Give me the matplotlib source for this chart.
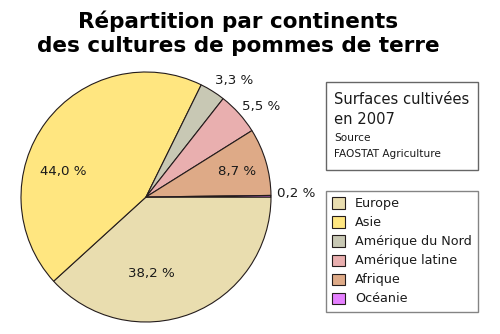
import numpy as np
import matplotlib
matplotlib.use('Agg')
import matplotlib.pyplot as plt
from matplotlib.patches import Rectangle

# Surfaces de pommes de terre par continent, 2007 (FAOSTAT)
continents = ['Europe', 'Asie', 'Amérique du Nord', 'Amérique latine', 'Afrique', 'Océanie']
parts = [38.2, 44.0, 3.3, 5.5, 8.7, 0.2]
couleurs = ['#e9ddaf', '#ffe680', '#c8c8b4', '#e9afaf', '#deaa87', '#e580ff']

# placement des étiquettes : décalage angulaire (degrés) et distance au centre (rayons)
decalage = [-17, 20, -5, -4, -1, 1]
distance = [0.61, 0.69, 1.17, 1.17, 0.755, 1.2]

W, H = 500, 334
fig = plt.figure(figsize=(W / 100, H / 100), dpi=100)
fig.patch.set_facecolor('white')

# camembert : centre (146, 197), rayon 125 px
cx, cy, r = 146, 197, 125
ax = fig.add_axes([(cx - r) / W, (H - cy - r) / H, 2 * r / W, 2 * r / H])
wedges, _ = ax.pie(parts, colors=couleurs, startangle=0, counterclock=False,
                   radius=1, wedgeprops=dict(edgecolor='#241c1c', linewidth=0.8))
ax.set_xlim(-1, 1)
ax.set_ylim(-1, 1)
ax.set_aspect('equal')
ax.axis('off')

for w, v, d, rr in zip(wedges, parts, decalage, distance):
    theta = np.deg2rad((w.theta1 + w.theta2) / 2 + d)
    txt = f"{v:.1f} %".replace('.', ',')
    ax.text(rr * np.cos(theta), rr * np.sin(theta), txt, ha='center', va='center',
            fontsize=9.6, color='#1a1a1a', clip_on=False)

# titre
fig.text(238 / W, 1 - 33 / H,
         'Répartition par continents\ndes cultures de pommes de terre',
         ha='center', va='center', fontsize=15.5, fontweight='bold',
         linespacing=1.25, color='black')

# encadré source
fig.add_artist(Rectangle((326 / W, 1 - 170 / H), 152 / W, 88 / H,
                         transform=fig.transFigure, facecolor='white',
                         edgecolor='#666666', linewidth=1.0))
fig.text(334 / W, 1 - 100 / H, 'Surfaces cultivées', fontsize=10.6,
         ha='left', va='center', color='#1a1a1a')
fig.text(334 / W, 1 - 119 / H, 'en 2007', fontsize=10.6,
         ha='left', va='center', color='#1a1a1a')
fig.text(334 / W, 1 - 138 / H, 'Source', fontsize=7.6,
         ha='left', va='center', color='#1a1a1a')
fig.text(334 / W, 1 - 154 / H, 'FAOSTAT Agriculture', fontsize=7.6,
         ha='left', va='center', color='#1a1a1a')

# légende
leg = fig.legend(wedges, continents, loc='upper left',
                 bbox_to_anchor=(326 / W, 1 - 191 / H), borderaxespad=0,
                 fontsize=9.2, frameon=True, fancybox=False,
                 handlelength=0.95, handleheight=0.95, handletextpad=0.8,
                 labelspacing=0.47, borderpad=0.5)
leg.get_frame().set_edgecolor('#666666')
leg.get_frame().set_linewidth(1.0)
for t in leg.get_texts():
    t.set_color('#1a1a1a')

fig.savefig('out.png', dpi=100)
